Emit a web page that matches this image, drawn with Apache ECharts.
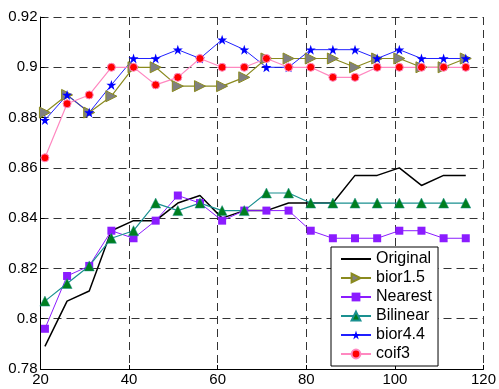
<!DOCTYPE html>
<html>
<head>
<meta charset="utf-8">
<script src="https://cdn.jsdelivr.net/npm/echarts@6/dist/echarts.min.js"></script>
<style>
  html, body { margin: 0; padding: 0; background: #fff; }
  #chart { width: 499px; height: 389px; }
</style>
</head>
<body>
<div id="chart"></div>
<script>
// x positions shared by every series
var xs = [21, 26, 31, 36, 41, 46, 51, 56, 61, 66, 71, 76, 81, 86, 91, 96, 101, 106, 111, 116]

var original = [0.789, 0.807, 0.811, 0.835, 0.839, 0.839, 0.846, 0.849, 0.840, 0.843, 0.843, 0.846, 0.846, 0.846, 0.857, 0.857, 0.860, 0.853, 0.857, 0.857]
var bior15 = [0.882, 0.889, 0.882, 0.8885, 0.900, 0.900, 0.8925, 0.8925, 0.8925, 0.896, 0.9035, 0.9035, 0.9035, 0.9035, 0.900, 0.9035, 0.9035, 0.900, 0.900, 0.9035]
var nearest = [0.796, 0.817, 0.821, 0.835, 0.832, 0.839, 0.849, 0.846, 0.839, 0.843, 0.843, 0.843, 0.835, 0.832, 0.832, 0.832, 0.835, 0.835, 0.832, 0.832]
var bilinear = [0.807, 0.814, 0.821, 0.832, 0.835, 0.846, 0.843, 0.846, 0.843, 0.843, 0.850, 0.850, 0.846, 0.846, 0.846, 0.846, 0.846, 0.846, 0.846, 0.846]
var bior44 = [0.879, 0.889, 0.882, 0.893, 0.9035, 0.9035, 0.907, 0.9035, 0.911, 0.907, 0.900, 0.900, 0.907, 0.907, 0.907, 0.9035, 0.907, 0.9035, 0.9035, 0.9035]
var coif3 = [0.864, 0.8855, 0.889, 0.900, 0.900, 0.893, 0.896, 0.9035, 0.900, 0.900, 0.9035, 0.900, 0.900, 0.896, 0.896, 0.900, 0.900, 0.900, 0.900, 0.900]

var xTicks = { min: 20, max: 120, step: 20 }
var yTicks = { min: 0.78, max: 0.92, step: 0.02 }

var STAR = 'path://M50,0 L61.8,35.4 L99,35.4 L69,57.3 L80.4,92.7 L50,70.8 L19.6,92.7 L31,57.3 L1,35.4 L38.2,35.4 Z'

function pairs (ys) {
  return xs.map(function (x, i) { return [x, ys[i]] })
}

var chart = echarts.init(document.getElementById('chart'))
var font = 'Liberation Sans, Arial, sans-serif'
var gridLine = { show: true, lineStyle: { color: '#333', type: [8, 5], width: 1 } }

chart.setOption({
  animation: false,
  backgroundColor: '#fff',
  textStyle: { fontFamily: font },
  grid: { left: 40.5, right: 12, top: 17, bottom: 20 },
  legend: {
    orient: 'vertical',
    left: 331,
    top: 247,
    width: 115,
    padding: [4, 6, 4, 9],
    itemGap: 3,
    itemWidth: 30,
    itemHeight: 11,
    backgroundColor: '#fff',
    borderColor: '#000',
    borderWidth: 1,
    borderRadius: 0,
    textStyle: { fontSize: 16, lineHeight: 16, color: '#000', fontFamily: font },
    data: [
      // Original has no markers, so hide the legend symbol
      { name: 'Original', itemStyle: { color: 'rgba(0,0,0,0)', borderWidth: 0 } },
      'bior1.5', 'Nearest', 'Bilinear', 'bior4.4', 'coif3'
    ]
  },
  xAxis: {
    type: 'value',
    min: xTicks.min,
    max: xTicks.max,
    interval: xTicks.step,
    axisLine: { show: true, onZero: false, lineStyle: { color: '#000', width: 1 } },
    axisTick: { show: true, inside: true, length: 4, lineStyle: { color: '#000' } },
    axisLabel: { color: '#000', fontSize: 15, margin: 3 },
    splitLine: gridLine
  },
  yAxis: {
    type: 'value',
    min: yTicks.min,
    max: yTicks.max,
    interval: yTicks.step,
    axisLine: { show: true, onZero: false, lineStyle: { color: '#000', width: 1 } },
    axisTick: { show: true, inside: true, length: 4, lineStyle: { color: '#000' } },
    axisLabel: {
      color: '#000',
      fontSize: 15,
      margin: 3,
      formatter: function (v) { return String(parseFloat(v.toFixed(2))) }
    },
    splitLine: gridLine
  },
  series: [
    {
      name: 'Original',
      type: 'line',
      data: pairs(original),
      symbol: 'circle',
      showSymbol: false,
      color: '#000',
      lineStyle: { color: '#000', width: 1.5 }
    },
    {
      name: 'bior1.5',
      type: 'line',
      data: pairs(bior15),
      symbol: 'triangle',
      symbolRotate: -90,
      symbolSize: 11,
      color: '#808080',
      lineStyle: { color: '#8a8a1e', width: 1.2 },
      itemStyle: { color: '#808080', borderColor: '#8a8a1e', borderWidth: 1 }
    },
    {
      name: 'Nearest',
      type: 'line',
      data: pairs(nearest),
      symbol: 'rect',
      symbolSize: 8,
      color: '#8b1cff',
      lineStyle: { color: '#8b1cff', width: 1 },
      itemStyle: { color: '#8b1cff' }
    },
    {
      name: 'Bilinear',
      type: 'line',
      data: pairs(bilinear),
      symbol: 'triangle',
      symbolSize: 10,
      color: '#007f1f',
      lineStyle: { color: '#1a9090', width: 1.2 },
      itemStyle: { color: '#007f1f', borderColor: '#1a9090', borderWidth: 0.5 }
    },
    {
      name: 'bior4.4',
      type: 'line',
      data: pairs(bior44),
      symbol: STAR,
      symbolSize: 10,
      color: '#0000ff',
      lineStyle: { color: '#2020ff', width: 1 },
      itemStyle: { color: '#0000ff' }
    },
    {
      name: 'coif3',
      type: 'line',
      data: pairs(coif3),
      symbol: 'circle',
      symbolSize: 8,
      color: '#ff0000',
      lineStyle: { color: '#ff88c0', width: 1.2 },
      itemStyle: { color: '#ff0000', borderColor: '#ff88c0', borderWidth: 1 }
    }
  ]
})
</script>
</body>
</html>
